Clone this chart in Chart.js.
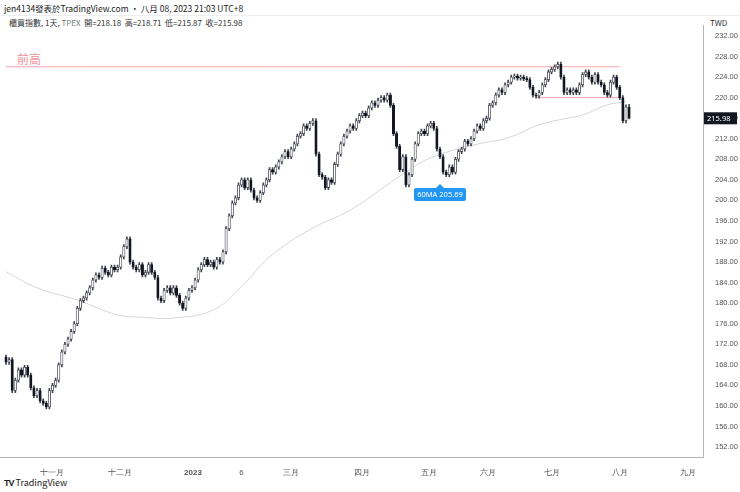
<!DOCTYPE html>
<html><head><meta charset="utf-8">
<script src="https://cdn.jsdelivr.net/npm/chart.js@4.4.0/dist/chart.umd.min.js"></script>
<style>
body{margin:0;background:#fff;font-family:"Noto Sans CJK SC","Noto Sans",sans-serif;width:740px;height:492px;overflow:hidden;position:relative}
.t{position:absolute;white-space:nowrap}
</style></head><body>
<div class="t" style="left:4px;top:2px;font-size:8.5px;color:#222">jen4134發表於TradingView.com • 八月 08, 2023 21:03 UTC+8</div>
<div style="position:absolute;left:0;top:15px;width:740px;border-top:1px solid #eee"></div>
<div class="t" style="left:9px;top:17px;font-size:8px;color:#333">櫃買指數, 1天, <span style="color:#777">TPEX</span>&nbsp; 開=218.18&nbsp; 高=218.71&nbsp; 低=215.87&nbsp; 收=215.98</div>
<div class="t" style="left:710px;top:17px;font-size:8px;color:#333">TWD</div>
<div class="t" style="left:17px;top:50px;font-size:12px;color:#f0909c">前高</div>
<div class="t" style="left:4px;top:476px;font-size:9px;color:#222"><b style="font-family:'Liberation Sans';letter-spacing:-1px">TV</b> TradingView</div>
<div style="position:absolute;left:0;top:14px;width:740px;height:462px"><canvas id="c" width="740" height="462"></canvas></div>
<script>
const closes=[168.5,169,163,165,167,166,167.5,166,163.5,162,163,161,160.5,159.8,163,164,165,168,170.5,172,173,174.5,176,179,180.5,181,182,183,184.5,185.5,185,186.8,186,185.5,187,186.5,187,189,191,192.5,188,187,186.5,187.5,185.5,186,187.5,186,185,181,180.5,182.5,183,182,183,181.5,180,179,181,182.5,183,184.5,186.5,187.5,188.5,187.5,188,187,188.5,188,190,194.5,197,199.5,200.5,203,204,202.5,204,202,200.5,200,201.5,203,204,206,205.5,206.5,207.5,208.5,209.5,208.5,210,211,212.5,213,214.5,214,215,215.5,209,205,204.5,202.5,204,203.5,207,209,211,212.5,213.5,214.5,214,215.5,216.5,217,216.5,218,219,218.5,219.5,220,219.5,220.5,218.5,213,210.5,206,208.5,203,205,208,211,213,213.5,213,214.5,215,214,210,208.5,205.5,205,206.5,205.5,208,209.5,210,211.5,211,212,213.5,214.5,214,215.5,216,218.5,219,220.5,221.5,221,222.5,223,224,224.2,223.8,224,223.7,223.5,222,220.5,220.3,221,222.5,223.5,225,225.5,226,226.5,224,221,221.5,221,221.5,221,222.5,224.5,225,224,223,224.5,223,222.5,221,220.5,223,224,222,220,215.5,218.18,215.98];
const firstOpen=169.5;
const maIdx=[0,10,23,36,43,54,67,76,85,98,111,122,129,137,151,162,172,181,186,194,200];
const maVal=[186.1,183,180.6,177.7,177.3,177.1,178.7,183.2,189,194.3,198.1,202.6,205.5,208.3,210.8,212.2,214.7,216,216.6,218.6,219.2];
const monthIdx=[14.8,36.8,60.3,76,92,115,136.5,155.5,176,198,220];
const monthLbl=['十一月','十二月','2023','6','三月','四月','五月','六月','七月','八月','九月'];
const priceTicks=[152,156,160,164,168,172,176,180,184,188,192,196,200,204,208,212,216,220,224,228,232];
const resIdx=[0,198],resVal=[226,226];
const supIdx=[171,198],supVal=[220,220];
const lastClose=215.98, lastHigh=218.71, lastLow=215.87;

const body=[],wick=[],bc=[],bb=[];
closes.forEach((c,i)=>{
  const o=i===0?firstOpen:closes[i-1];
  let hi=Math.max(o,c)+0.4, lo=Math.min(o,c)-0.4;
  if(i===closes.length-1){hi=lastHigh;lo=lastLow;}
  body.push({x:i,y:[o,c===o?c+0.08:c]});
  wick.push({x:i,y:[lo,hi]});
  const up=c>=o;
  bc.push(up?'#ffffff':'#131722');bb.push(up?'#434651':'#131722');
});
new Chart(document.getElementById('c'),{
 data:{datasets:[
  {type:'line',data:maIdx.map((x,k)=>({x,y:maVal[k]})),borderColor:'#d6d6d6',borderWidth:1,pointRadius:0,tension:0.4,order:5},
  {type:'line',data:resIdx.map((x,k)=>({x,y:resVal[k]})),borderColor:'#f4a3ab',borderWidth:1,pointRadius:0,order:4},
  {type:'line',data:supIdx.map((x,k)=>({x,y:supVal[k]})),borderColor:'#f4a3ab',borderWidth:1,pointRadius:0,order:4},
  {type:'bar',data:wick,backgroundColor:'#434651',barThickness:1,grouped:false,order:3},
  {type:'bar',data:body,backgroundColor:bc,borderColor:bb,borderWidth:0.8,borderSkipped:false,barThickness:2.4,grouped:false,order:1}
 ]},
 options:{responsive:false,animation:false,devicePixelRatio:1,
  layout:{padding:{top:11.7,left:0,right:0,bottom:0}},
  plugins:{legend:{display:false},tooltip:{enabled:false}},
  scales:{
   x:{type:'linear',min:-1.94,max:224.85,offset:false,grid:{display:false},border:{color:'#b2b5be'},
     afterBuildTicks:s=>{s.ticks=monthIdx.map(v=>({value:v}));},
     afterFit:s=>{s.height=18.7;},
     ticks:{autoSkip:false,maxRotation:0,color:'#555',padding:3,
       font:ctx=>({size:8,weight:monthLbl[monthIdx.indexOf(ctx.tick&&ctx.tick.value)]==='2023'?'bold':'normal'}),
       callback:v=>{const k=monthIdx.indexOf(v);return k>=0?monthLbl[k]:'';}}},
   y:{position:'right',min:150,max:234,grid:{display:false},border:{color:'#b2b5be'},
     afterBuildTicks:s=>{s.ticks=priceTicks.map(v=>({value:v}));},
     afterFit:s=>{s.width=37;},
     ticks:{color:'#555',font:{size:7.5},padding:4,callback:v=>v.toFixed(2)}}
  }},
 plugins:[{id:'lbl',afterDraw(ch){
   const g=ch.ctx,ys=ch.scales.y,xs=ch.scales.x;
   const y=ys.getPixelForValue(lastClose);
   g.fillStyle='#131722';g.fillRect(704,y-6,33,12);
   g.fillStyle='#fff';g.font='7.5px "Noto Sans"';g.textBaseline='middle';g.fillText(lastClose.toFixed(2),707,y+0.5);
   const px=xs.getPixelForValue(140),py=ys.getPixelForValue(203.4);
   g.fillStyle='#2196f3';
   g.beginPath();g.moveTo(px-4,py+5);g.lineTo(px,py+1);g.lineTo(px+4,py+5);g.fill();
   g.beginPath();g.roundRect(px-26,py+5,52,13,2);g.fill();
   g.fillStyle='#fff';g.font='7.5px "Noto Sans"';g.textAlign='center';g.fillText('60MA 205.69',px,py+12);
 }}]
});
</script></body></html>
